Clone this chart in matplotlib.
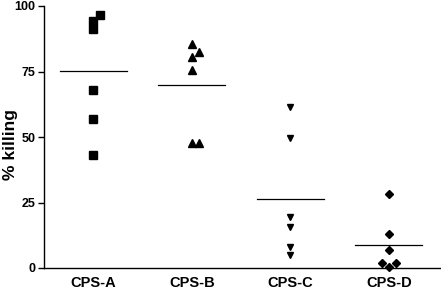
import matplotlib
matplotlib.use("Agg")
import matplotlib.pyplot as plt

plt.rcParams['font.family'] = ['Liberation Sans', 'DejaVu Sans']

groups = ['CPS-A', 'CPS-B', 'CPS-C', 'CPS-D']

cps_a = [96.7, 94.3, 91.2, 68.0, 56.9, 43.1]
cps_b = [85.4, 82.4, 80.7, 75.5, 47.7, 47.7]
cps_c = [61.3, 49.5, 19.6, 15.6, 8.1, 5.0]
cps_d = [28.2, 13.0, 6.9, 2.0, 2.0, 0.5]

values = [cps_a, cps_b, cps_c, cps_d]
markers = ['s', '^', 'v', 'D']
sizes = [5.2, 5.5, 4.8, 3.6]
# small horizontal shifts for overlapping points
jitter = [
    [0.07, 0, 0, 0, 0, 0],
    [0, 0.07, 0, 0, 0, 0.07],
    [0, 0, 0, 0, 0, 0],
    [0, 0, 0, -0.07, 0.07, 0],
]

fig = plt.figure(figsize=(4.41, 2.91), dpi=100)
ax = fig.add_axes([44 / 441, 23 / 291, 1 - 44 / 441, 262 / 291])

for i, vals in enumerate(values):
    xs = [i + j for j in jitter[i]]
    ax.plot(xs, vals, linestyle='none', marker=markers[i], markersize=sizes[i],
            color='black', clip_on=False)
    mean = sum(vals) / len(vals)
    ax.plot([i - 0.34, i + 0.34], [mean, mean], color='black', linewidth=0.9)

ax.set_xlim(-0.5, 3.53)
ax.set_ylim(0, 100)
ax.set_yticks([0, 25, 50, 75, 100])
ax.set_xticks(range(len(groups)))
ax.set_xticklabels(groups, fontsize=10.5, fontweight='bold')
ax.tick_params(axis='x', length=0, pad=6)
ax.tick_params(axis='y', length=4, width=1, pad=2, labelsize=9)
for lab in ax.get_yticklabels():
    lab.set_fontweight('bold')
ax.set_ylabel('% killing', fontsize=12.5, fontweight='bold')
ax.yaxis.set_label_coords(-0.066, 0.47)

ax.spines['top'].set_visible(False)
ax.spines['right'].set_visible(False)
ax.spines['left'].set_linewidth(1)
ax.spines['bottom'].set_linewidth(1)

fig.savefig('out.png', dpi=100)
